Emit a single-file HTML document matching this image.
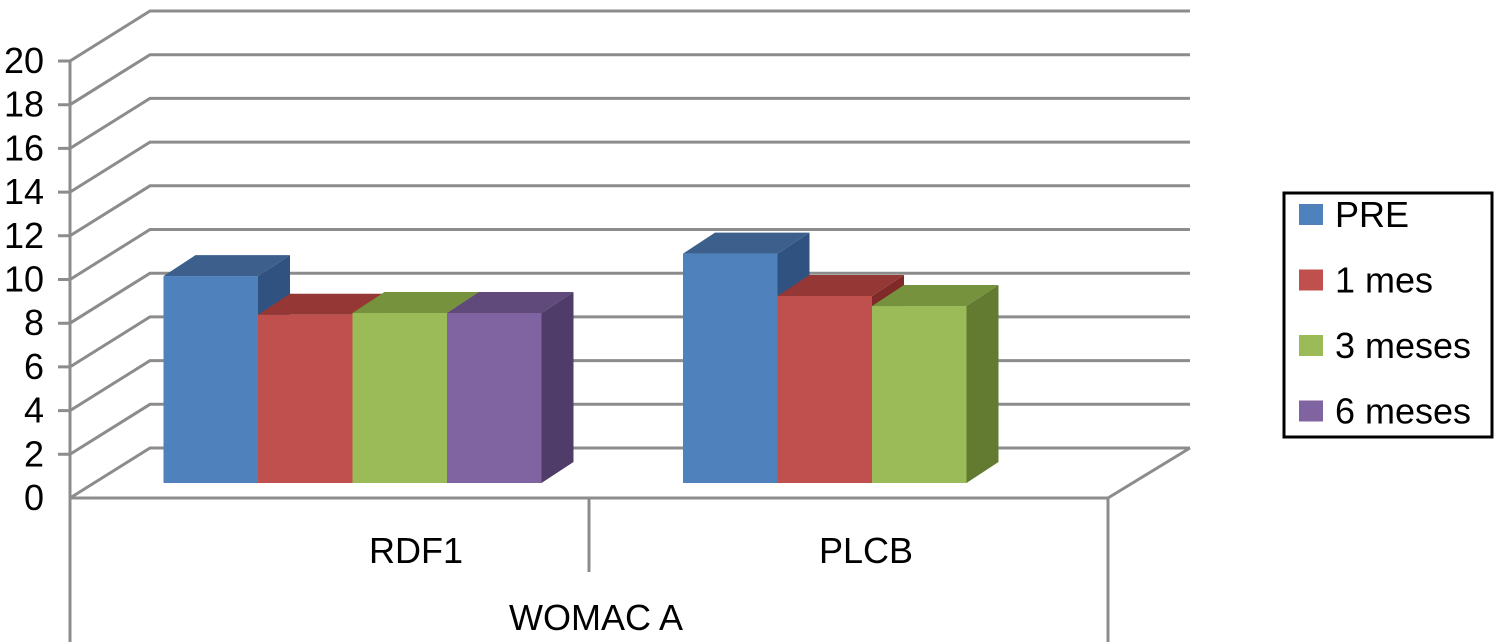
<!DOCTYPE html>
<html><head><meta charset="utf-8"><style>
html,body{margin:0;padding:0;background:#fff;}
svg{display:block;font-family:"Liberation Sans",Arial,sans-serif;}
</style></head><body>
<svg id="chart" width="1495" height="642" viewBox="0 0 1495 642"></svg>
<script>
const categories = ["RDF1", "PLCB"];
const seriesNames = ["PRE", "1 mes", "3 meses", "6 meses"];
const seriesPRE = [9.47, 10.5];
const series1mes = [7.7, 8.56];
const series3meses = [7.78, 8.1];
const series6meses = [7.78, null];
const yTicks = [0, 2, 4, 6, 8, 10, 12, 14, 16, 18, 20];
const axisTitle = "WOMAC A";

const NS = "http://www.w3.org/2000/svg";
const svg = document.getElementById("chart");
function mk(tag, attrs, parent) {
  const e = document.createElementNS(NS, tag);
  for (const k in attrs) e.setAttribute(k, attrs[k]);
  (parent || svg).appendChild(e);
  return e;
}
const front0 = 498, unit = 21.85, backDx = 80, backDy = -50;
const xL = 70, xR = 1108;
function yFront(v) { return front0 - v * unit; }
const grid = "#8c8c8c";

yTicks.forEach(function (t) {
  const y = yFront(t);
  const g = mk("polyline", {points: (t === 0 ? xL : 58) + "," + y + " " + xL + "," + y + " " + (xL + backDx) + "," + (y + backDy) + " " + (xR + backDx + 2) + "," + (y + backDy), fill: "none", stroke: grid, "stroke-width": 3});
  
  
  const lab = mk("text", {x: 44, y: y + 12, "text-anchor": "end", "font-size": 36, fill: "#000"});
  lab.textContent = t;
  
  
});
const fr = mk("line", {x1: xR, y1: front0, x2: xR + backDx + 2, y2: front0 + backDy, stroke: grid, "stroke-width": 3});


const fl = mk("line", {x1: xL, y1: front0, x2: xR, y2: front0, stroke: grid, "stroke-width": 3});


const ya = mk("line", {x1: xL, y1: yFront(20), x2: xL, y2: 642, stroke: grid, "stroke-width": 3});


const rd = mk("line", {x1: xR, y1: front0, x2: xR, y2: 642, stroke: grid, "stroke-width": 3});


const md = mk("line", {x1: 589, y1: front0, x2: 589, y2: 572, stroke: grid, "stroke-width": 3});



const allSeries = [seriesPRE, series1mes, series3meses, series6meses];
const fronts = ["#4f81bd", "#c0504d", "#9bbb59", "#8064a2"];
const tops = ["#3c5f8c", "#953735", "#76923c", "#604a7b"];
const sides = ["#2f5280", "#7f2a28", "#637a31", "#4f3c68"];
const barBase = 483, barW = 94.5, dX = 32, dY = -21;
const groupStart = [163.5, 683], labelX = [416, 866];
categories.forEach(function (c, ci) {
  const lab = mk("text", {x: labelX[ci], y: 563, "text-anchor": "middle", "font-size": 36});
  lab.textContent = c;
  
  
  allSeries.forEach(function (s, si) {
    const v = s[ci];
    if (v === null || v === undefined) return;
    const x0 = groupStart[ci] + si * barW, x1 = x0 + barW;
    const yt = barBase - v * unit;
    const g = mk("g", {});
    
    
    mk("polygon", {points: x1 + "," + yt + " " + (x1 + dX) + "," + (yt + dY) + " " + (x1 + dX) + "," + (barBase + dY) + " " + x1 + "," + barBase, fill: sides[si]}, g);
    mk("polygon", {points: x0 + "," + yt + " " + (x0 + dX) + "," + (yt + dY) + " " + (x1 + dX) + "," + (yt + dY) + " " + x1 + "," + yt, fill: tops[si]}, g);
    mk("rect", {x: x0, y: yt, width: barW, height: barBase - yt, fill: fronts[si]}, g);
  });
});
const at = mk("text", {x: 596, y: 630, "text-anchor": "middle", "font-size": 36});
at.textContent = axisTitle;



const lg = mk("g", {});


mk("rect", {x: 1284, y: 193, width: 208, height: 244, fill: "#fff", stroke: "#000", "stroke-width": 3}, lg);
seriesNames.forEach(function (n, i) {
  const y = 204 + i * 65.5;
  const e = mk("g", {}, lg);
  
  
  mk("rect", {x: 1299, y: y, width: 24, height: 21, fill: fronts[i]}, e);
  const t = mk("text", {x: 1335, y: y + 23, "font-size": 36}, e);
  t.textContent = n;
});
</script>
</body></html>
